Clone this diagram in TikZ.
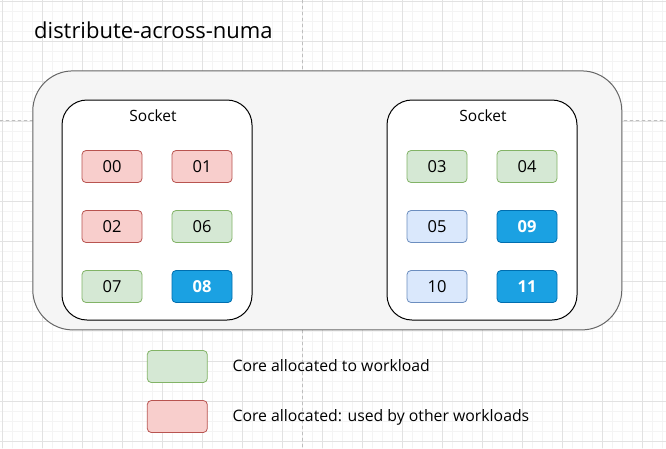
\documentclass[tikz,border=0pt]{standalone}
\usepackage{fontspec}
\setmainfont{Open Sans}
\usetikzlibrary{positioning}
\definecolor{gridMinor}{RGB}{244,244,244}
\definecolor{gridMajor}{RGB}{226,226,226}
\definecolor{pageLine}{RGB}{190,190,190}
\definecolor{outerFill}{RGB}{245,245,245}
\definecolor{outerLine}{RGB}{102,102,102}
\definecolor{redFill}{RGB}{248,206,204}
\definecolor{redLine}{RGB}{184,84,80}
\definecolor{greenFill}{RGB}{213,232,212}
\definecolor{greenLine}{RGB}{130,179,102}
\definecolor{paleFill}{RGB}{218,232,252}
\definecolor{paleLine}{RGB}{108,142,191}
\definecolor{deepFill}{RGB}{27,161,226}
\definecolor{deepLine}{RGB}{0,110,175}
\tikzset{
	gridminor/.style={draw=gridMinor, line width=0.8pt},
	gridmajor/.style={draw=gridMajor, line width=0.8pt},
	pageline/.style={draw=pageLine, line width=0.8pt, dash pattern=on 3pt off 3pt},
	outerbox/.style={draw=outerLine, fill=outerFill, line width=1pt, rounded corners=40pt,
		minimum width=589pt, minimum height=259pt, inner sep=0pt},
	socketbox/.style={draw=black, fill=white, line width=1pt, rounded corners=25pt,
		minimum width=190pt, minimum height=220pt, inner sep=0pt},
	sockettitle/.style={font=\fontsize{15.5}{18}\selectfont},
	core/.style={line width=0.8pt, rounded corners=4pt, minimum width=60pt, minimum height=32pt,
		inner sep=0pt, font=\fontsize{16.5}{18}\selectfont},
	corered/.style={core, draw=redLine, fill=redFill},
	coregreen/.style={core, draw=greenLine, fill=greenFill},
	corepale/.style={core, draw=paleLine, fill=paleFill},
	coredeep/.style={core, draw=deepLine, fill=deepFill, text=white, font=\fontsize{16.5}{18}\selectfont\bfseries},
	legendtext/.style={anchor=base west, font=\fontsize{15.8}{18}\selectfont},
}

\begin{document}
\begin{tikzpicture}[x=1pt, y=-1pt, line cap=round, line join=round]
	
	% ---- Canvas grid ----
	\useasboundingbox (0,0) rectangle (666,448);
	\foreach \gx in {2,12,...,662} \draw[gridminor] (\gx,0) -- (\gx,448);
	\foreach \gy in {1,11,...,441} \draw[gridminor] (0,\gy) -- (666,\gy);
	\foreach \gx in {2,42,...,642} \draw[gridmajor] (\gx,0) -- (\gx,448);
	\foreach \gy in {1,41,...,441} \draw[gridmajor] (0,\gy) -- (666,\gy);
	
	% ---- Page breaks ----
	\draw[pageline] (302.5,0) -- (302.5,448);
	\draw[pageline] (0,120.5) -- (666,120.5);
	
	% ---- Title ----
	\node[anchor=base west, inner sep=0pt, font=\fontsize{22}{26}\selectfont] (title) at (34,38.5) {distribute-across-numa};
	
	% ---- NUMA node ----
	\node[outerbox] (numa) at (327.3,200.4) {};
	
	% ---- Sockets ----
	\node[socketbox] (sockA) at (157,210) {};
	\node[socketbox] (sockB) at (482,210) {};
	\node[sockettitle, anchor=base] (sockAlabel) at (153,121.5) {Socket};
	\node[sockettitle, anchor=base] (sockBlabel) at (483,121.5) {Socket};
	
	% ---- Cores, first socket ----
	\node[corered]   (c00) at (112,166.5) {00};
	\node[corered]   (c01) at (202,166.5) {01};
	\node[corered]   (c02) at (112,226.5) {02};
	\node[coregreen] (c06) at (202,226.5) {06};
	\node[coregreen] (c07) at (112,286.5) {07};
	\node[coredeep]  (c08) at (202,286.5) {08};
	
	% ---- Cores, second socket ----
	\node[coregreen] (c03) at (437,166.5) {03};
	\node[coregreen] (c04) at (527,166.5) {04};
	\node[corepale]  (c05) at (437,226.5) {05};
	\node[coredeep]  (c09) at (527,226.5) {09};
	\node[corepale]  (c10) at (437,286.5) {10};
	\node[coredeep]  (c11) at (527,286.5) {11};
	
	% ---- Legend ----
	\node[coregreen] (keyGreen) at (177.3,366.5) {};
	\node[corered]   (keyRed)   at (177.3,416.5) {};
	\node[legendtext] (keyGreenText) at (229,371.5) {Core allocated to workload};
	\node[legendtext] (keyRedText)   at (229,421.5) {Core allocated: used by other workloads};
	
\end{tikzpicture}
\end{document}
